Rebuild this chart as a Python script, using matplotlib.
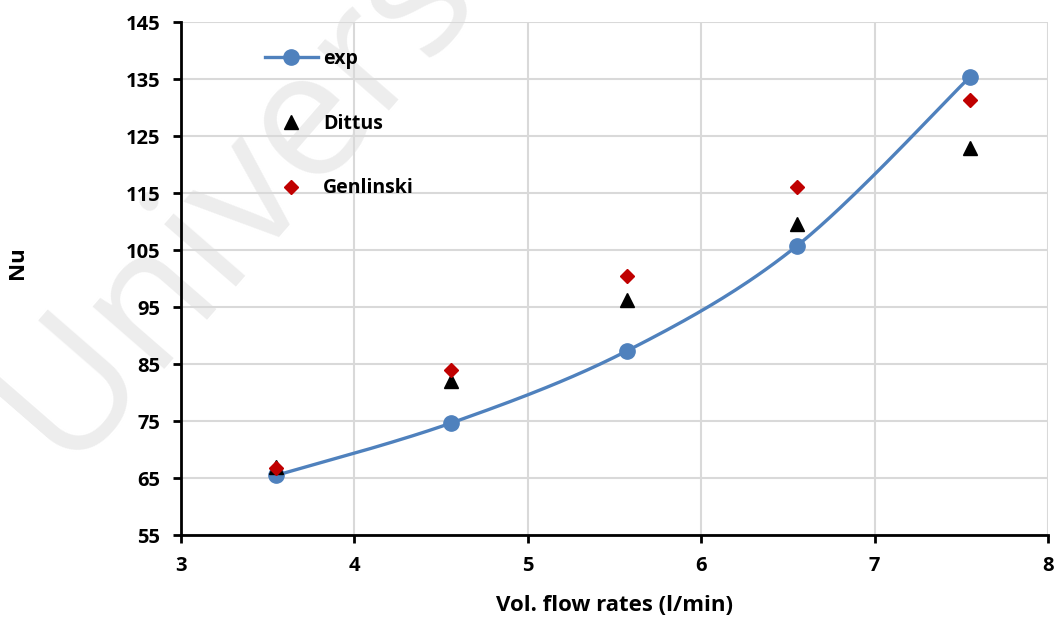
import matplotlib
matplotlib.use('Agg')
import matplotlib.pyplot as plt
import numpy as np

# flow rates and Nusselt numbers
flow = [3.55, 4.56, 5.57, 6.55, 7.55]
nu_exp = [65.5, 74.7, 87.3, 105.7, 135.4]
nu_dittus = [67.0, 82.0, 96.2, 109.6, 122.9]
nu_genlinski = [66.8, 84.0, 100.4, 116.1, 131.4]

x_ticks = [3, 4, 5, 6, 7, 8]
y_ticks = [55, 65, 75, 85, 95, 105, 115, 125, 135, 145]

plt.rcParams['font.family'] = ['Open Sans', 'DejaVu Sans']
plt.rcParams['font.weight'] = 'bold'


def smooth(xs, ys, sx, sy, n=40):
    # Catmull-Rom style smoothing like a spreadsheet "smoothed line"
    p = np.column_stack([np.asarray(xs) * sx, np.asarray(ys) * sy])
    p = np.vstack([p[0], p, p[-1]])
    out = []
    for i in range(1, len(p) - 2):
        p0, p1, p2, p3 = p[i - 1], p[i], p[i + 1], p[i + 2]
        c1 = p1 + (p2 - p0) / 6
        c2 = p2 - (p3 - p1) / 6
        t = np.linspace(0, 1, n)[:, None]
        seg = (1 - t) ** 3 * p1 + 3 * (1 - t) ** 2 * t * c1 + 3 * (1 - t) * t ** 2 * c2 + t ** 3 * p2
        out.append(seg)
    out = np.vstack(out)
    return out[:, 0] / sx, out[:, 1] / sy


fig = plt.figure(figsize=(10.58, 6.18), dpi=100)
ax = fig.add_axes([0.171, 0.134, 0.8195, 0.830])
ax.set_facecolor('none')
ax.set_zorder(1)

fig.text(-0.035, 0.27, 'University', fontsize=128, fontweight='normal',
         color='#ededed', rotation=49, ha='left', va='baseline', zorder=0)

sx, sy = 867 / 5, 513 / 90
cx, cy = smooth(flow, nu_exp, sx, sy)
ax.plot(cx, cy, color='#4f81bd', lw=2.4, zorder=3)
ax.plot(flow, nu_exp, 'o', color='#4f81bd', ms=11, zorder=3)
ax.plot([], [], '-o', color='#4f81bd', lw=2.4, ms=11, label='exp')
ax.plot(flow, nu_dittus, '^', color='black', ms=10.5, ls='none', zorder=4, label='Dittus')
ax.plot(flow, nu_genlinski, 'D', color='#c00000', ms=7.6, ls='none', zorder=5, label='Genlinski')

ax.set_xlim(3, 8)
ax.set_ylim(55, 145)
ax.set_xticks(x_ticks)
ax.set_yticks(y_ticks)
ax.grid(True, color='#d9d9d9', lw=1.5)
ax.set_axisbelow(True)

for s in ['top', 'right']:
    ax.spines[s].set_visible(False)
for s in ['left', 'bottom']:
    ax.spines[s].set_linewidth(2)
ax.tick_params(width=2, length=6, labelsize=14.5, direction='out')
ax.tick_params(axis='y', pad=9)
ax.tick_params(axis='x', pad=9)

ax.set_xlabel('Vol. flow rates (l/min)', fontsize=16, fontweight='bold')
ax.xaxis.set_label_coords(0.5, -0.117)
ax.set_ylabel('Nu', fontsize=16, fontweight='bold')
ax.yaxis.set_label_coords(-0.189, 0.532)
ax.yaxis.label.set_va('center')

ax.legend(loc='upper left', bbox_to_anchor=(0.077, 0.982), frameon=False,
          fontsize=14, labelspacing=2.3, handlelength=2.7, handletextpad=0.27)

fig.savefig('out.png', dpi=100)
